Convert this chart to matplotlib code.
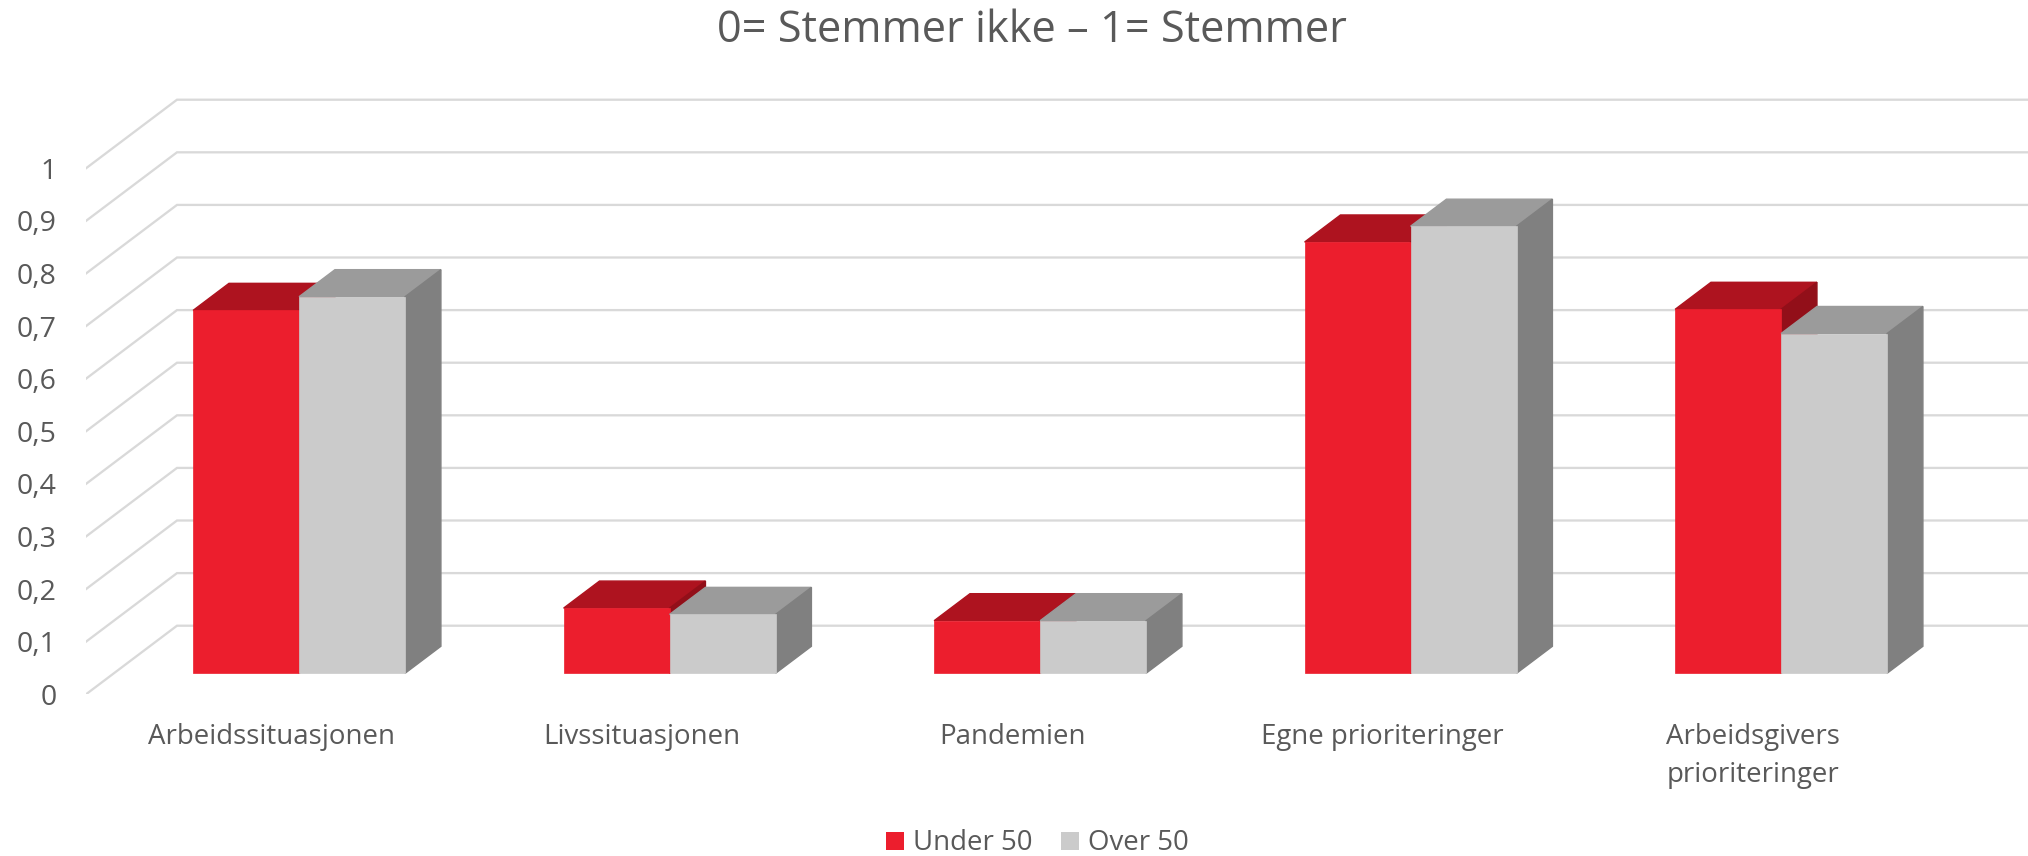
import matplotlib
matplotlib.use("Agg")
import matplotlib.pyplot as plt
from matplotlib.patches import Patch, Polygon

plt.rcParams['font.family'] = ['Open Sans', 'DejaVu Sans']

# --- data ---
categories = ["Arbeidssituasjonen", "Livssituasjonen", "Pandemien",
              "Egne prioriteringer", "Arbeidsgivers\nprioriteringer"]
under_50 = [0.69, 0.124, 0.10, 0.82, 0.692]
over_50 = [0.716, 0.112, 0.10, 0.85, 0.646]
tick_values = [0, 0.1, 0.2, 0.3, 0.4, 0.5, 0.6, 0.7, 0.8, 0.9, 1]
tick_labels = ["0", "0,1", "0,2", "0,3", "0,4", "0,5", "0,6", "0,7", "0,8", "0,9", "1"]
title = "0= Stemmer ikke – 1= Stemmer"
series_names = ["Under 50", "Over 50"]

# --- style ---
W, H, DPI = 2028, 856, 100
TEXT = "#595959"
GRID = "#D9D9D9"
RED = ("#EC1E2D", "#AE131F", "#920F19")    # front, top, side
GREY = ("#CBCBCB", "#9B9B9B", "#808080")
BAR_W = 0.286
DEPTH_X = 0.2456        # floor depth in x units
DEPTH_Y = 0.1304        # floor depth in y units
BAR_D0, BAR_D1 = 0.306, 0.70   # bar depth range as fraction of the floor depth

fig = plt.figure(figsize=(W / DPI, H / DPI), dpi=DPI)
ax = fig.add_axes([86 / W, (H - 694.3) / H, (W - 86) / W, 694.3 / H])
ax.set_xlim(-0.5, -0.5 + (W - 86) / 370.5)
ax.set_ylim(0, 694.3 / 526)
for s in ax.spines.values():
    s.set_visible(False)


def proj(x, v, d):
    return (x + DEPTH_X * d, v + DEPTH_Y * d)


# walls: slanted side line + long back line for every tick value
x_left, x_right = -0.5, len(categories) - 0.5
for v in tick_values:
    pts = [proj(x_left, v, 0), proj(x_left, v, 1), proj(x_right, v, 1)]
    ax.plot(*zip(*pts), color=GRID, lw=1.65, solid_joinstyle="miter", zorder=1)


def box(x0, v, colors, z):
    x1 = x0 + BAR_W
    top = [proj(x0, v, BAR_D0), proj(x1, v, BAR_D0), proj(x1, v, BAR_D1), proj(x0, v, BAR_D1)]
    side = [proj(x1, 0, BAR_D0), proj(x1, v, BAR_D0), proj(x1, v, BAR_D1), proj(x1, 0, BAR_D1)]
    front = [proj(x0, 0, BAR_D0), proj(x1, 0, BAR_D0), proj(x1, v, BAR_D0), proj(x0, v, BAR_D0)]
    # the wider edges on top and side tuck under the front face, so no seam shows
    for poly, c, dz, lw in ((top, colors[1], 0, 1.0), (side, colors[2], 0.1, 1.0), (front, colors[0], 0.2, 0.5)):
        ax.add_patch(Polygon(poly, closed=True, facecolor=c, edgecolor=c, lw=lw,
                             joinstyle="miter", zorder=z + dz))


for i, (u, o) in enumerate(zip(under_50, over_50)):
    box(i - BAR_W, u, RED, 2 + i)
    box(i, o, GREY, 2.5 + i)

ax.set_yticks(tick_values, tick_labels)
ax.set_xticks(range(len(categories)), categories, linespacing=1.5)
ax.tick_params(axis="both", length=0, labelcolor=TEXT)
ax.tick_params(axis="y", labelsize=20.5, pad=21)
ax.tick_params(axis="x", labelsize=19.9, pad=20.5)

fig.text(1032 / W, 1 - 31 / H, title, ha="center", va="center", color=TEXT, fontsize=31.2)

handles = [Patch(facecolor=RED[0], label=series_names[0]), Patch(facecolor=GREY[0], label=series_names[1])]
leg = fig.legend(handles=handles, loc="center", bbox_to_anchor=(1037.5 / W, 1 - 843.5 / H), ncol=2,
                 frameon=False, fontsize=19.9, handlelength=0.65, handleheight=0.65,
                 handletextpad=0.32, columnspacing=1.05, labelcolor=TEXT)

fig.savefig("out.png", dpi=DPI)
